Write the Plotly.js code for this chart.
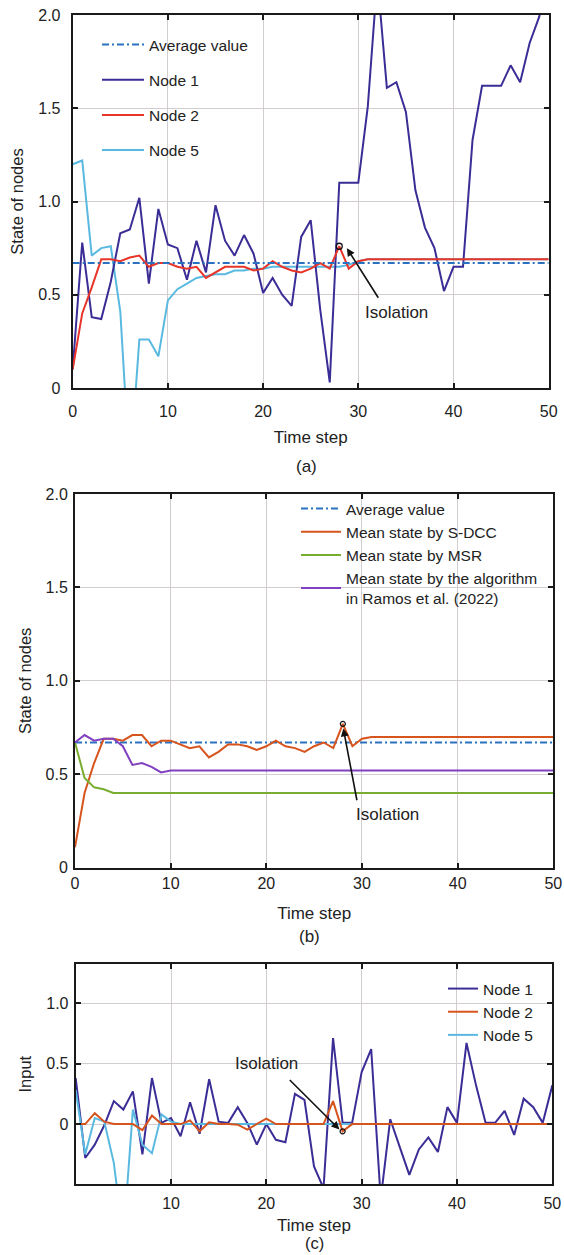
<!DOCTYPE html>
<html><head><meta charset="utf-8">
<script src="https://cdn.plot.ly/plotly-3.0.1.min.js"></script>
<style>html,body{margin:0;padding:0;background:#fff}</style>
</head><body><div id="chart" style="width:564px;height:1255px"></div>
<script>
const timeSteps = [0,1,2,3,4,5,6,7,8,9,10,11,12,13,14,15,16,17,18,19,20,21,22,23,24,25,26,27,28,29,30,31,32,33,34,35,36,37,38,39,40,41,42,43,44,45,46,47,48,49,50];
const averageValue = 0.67;
const isolationStep = 28;

// (a) state of nodes
const stateNode1 = [0.10,0.78,0.38,0.37,0.57,0.83,0.85,1.02,0.56,0.96,0.77,0.75,0.58,0.79,0.62,0.98,0.79,0.71,0.82,0.72,0.51,0.59,0.50,0.44,0.81,0.90,0.42,0.03,1.10,1.10,1.10,1.51,2.20,1.61,1.64,1.48,1.06,0.86,0.75,0.52,0.65,0.65,1.33,1.62,1.62,1.62,1.73,1.64,1.85,1.99,2.20];
const stateNode2 = [0.10,0.40,0.54,0.69,0.69,0.68,0.70,0.71,0.65,0.67,0.67,0.65,0.64,0.65,0.59,0.62,0.65,0.65,0.65,0.63,0.64,0.68,0.65,0.63,0.62,0.64,0.67,0.64,0.76,0.64,0.68,0.69,0.69,0.69,0.69,0.69,0.69,0.69,0.69,0.69,0.69,0.69,0.69,0.69,0.69,0.69,0.69,0.69,0.69,0.69,0.69];
const stateNode5 = [1.20,1.22,0.71,0.75,0.76,0.41,-0.45,0.26,0.26,0.17,0.47,0.53,0.56,0.59,0.60,0.61,0.61,0.63,0.63,0.64,0.64,0.65,0.65,0.65,0.65,0.65,0.65,0.65,0.65,0.66,0.68,0.69,0.69,0.69,0.69,0.69,0.69,0.69,0.69,0.69,0.69,0.69,0.69,0.69,0.69,0.69,0.69,0.69,0.69,0.69,0.69];

// (b) mean states
const meanSDCC = [0.11,0.40,0.56,0.69,0.69,0.68,0.71,0.71,0.65,0.68,0.68,0.66,0.64,0.65,0.59,0.62,0.66,0.66,0.65,0.63,0.65,0.68,0.65,0.64,0.62,0.65,0.67,0.64,0.77,0.65,0.69,0.70,0.70,0.70,0.70,0.70,0.70,0.70,0.70,0.70,0.70,0.70,0.70,0.70,0.70,0.70,0.70,0.70,0.70,0.70,0.70];
const meanMSR = [0.67,0.48,0.43,0.42,0.40,0.40,0.40,0.40,0.40,0.40,0.40,0.40,0.40,0.40,0.40,0.40,0.40,0.40,0.40,0.40,0.40,0.40,0.40,0.40,0.40,0.40,0.40,0.40,0.40,0.40,0.40,0.40,0.40,0.40,0.40,0.40,0.40,0.40,0.40,0.40,0.40,0.40,0.40,0.40,0.40,0.40,0.40,0.40,0.40,0.40,0.40];
const meanRamos = [0.67,0.71,0.68,0.69,0.69,0.65,0.55,0.56,0.54,0.51,0.52,0.52,0.52,0.52,0.52,0.52,0.52,0.52,0.52,0.52,0.52,0.52,0.52,0.52,0.52,0.52,0.52,0.52,0.52,0.52,0.52,0.52,0.52,0.52,0.52,0.52,0.52,0.52,0.52,0.52,0.52,0.52,0.52,0.52,0.52,0.52,0.52,0.52,0.52,0.52,0.52];

// (c) inputs
const inputNode1 = [0.38,-0.28,-0.17,-0.01,0.19,0.12,0.27,-0.25,0.38,0.01,0.05,-0.10,0.18,-0.08,0.37,0.02,0.01,0.14,0.01,-0.17,0.00,-0.13,-0.15,0.25,0.20,-0.35,-0.53,0.71,0.01,0.01,0.43,0.62,-0.62,0.04,-0.19,-0.42,-0.21,-0.11,-0.23,0.14,0.01,0.67,0.32,0.01,0.01,0.11,-0.09,0.21,0.14,0.01,0.32];
const inputNode2 = [0,0,0.09,0.02,0,0,0,-0.05,0.07,0,0,0,0.03,-0.06,0.015,0,0,-0.005,-0.045,0,0.045,0,0,0,0,0,0,0.19,-0.06,0,0,0,0,0,0,0,0,0,0,0,0,0,0,0,0,0,0,0,0,0,0];
const inputNode5 = [0.28,-0.25,0.05,0.02,-0.32,-0.95,0.12,-0.17,-0.24,0.08,0.02,0,0,0,0,0,0,0,0,0,0,0,0,0,0,0,0,0,0,0,0,0,0,0,0,0,0,0,0,0,0,0,0,0,0,0,0,0,0,0,0];

const stateTicks = [0,0.5,1,1.5,2];
const stateTickText = ['0','0.5','1.0','1.5','2.0'];
const inputTicks = [0,0.5,1];
const inputTickText = ['0','0.5','1.0'];
const xTicksAB = [0,10,20,30,40,50];
const xTicksC = [10,20,30,40,50];

const C = {node1:'#3a2d96', node2:'#e8352a', node5:'#5ab9e0', avg:'#2a72c0',
           sdcc:'#d6541d', msr:'#79ad2f', ramos:'#8040c0'};
const avgDash = '7px,3px,2px,3px';
const xEnds = [timeSteps[0], timeSteps[timeSteps.length-1]];
const avgLine = [averageValue, averageValue];

const traces = [
  // (a) — drawing order: node 5, node 1, node 2, average; legend order via legendrank
  {x:timeSteps, y:stateNode5, mode:'lines', name:'Node 5', line:{color:C.node5,width:2}, xaxis:'x', yaxis:'y', legend:'legend', legendgroup:'a4', legendrank:4},
  {x:timeSteps, y:stateNode1, mode:'lines', name:'Node 1', line:{color:C.node1,width:2}, xaxis:'x', yaxis:'y', legend:'legend', legendgroup:'a2', legendrank:2},
  {x:timeSteps, y:stateNode2, mode:'lines', name:'Node 2', line:{color:C.node2,width:2}, xaxis:'x', yaxis:'y', legend:'legend', legendgroup:'a3', legendrank:3},
  {x:xEnds, y:avgLine, mode:'lines', name:'Average value', line:{color:C.avg,width:2,dash:avgDash}, xaxis:'x', yaxis:'y', legend:'legend', legendgroup:'a1', legendrank:1},
  {x:[isolationStep], y:[stateNode2[isolationStep]], mode:'markers', showlegend:false, marker:{symbol:'circle-open', size:6, color:'#111', line:{width:1.3}}, xaxis:'x', yaxis:'y'},
  // (b)
  {x:xEnds, y:avgLine, mode:'lines', name:'Average value', line:{color:C.avg,width:2,dash:avgDash}, xaxis:'x2', yaxis:'y2', legend:'legend2'},
  {x:timeSteps, y:meanSDCC, mode:'lines', name:'Mean state by S-DCC', line:{color:C.sdcc,width:2}, xaxis:'x2', yaxis:'y2', legend:'legend2'},
  {x:timeSteps, y:meanMSR, mode:'lines', name:'Mean state by MSR', line:{color:C.msr,width:2}, xaxis:'x2', yaxis:'y2', legend:'legend2'},
  {x:timeSteps, y:meanRamos, mode:'lines', name:'Mean state by the algorithm<br>in Ramos et al. (2022)', line:{color:C.ramos,width:2}, xaxis:'x2', yaxis:'y2', legend:'legend2'},
  {x:[isolationStep], y:[meanSDCC[isolationStep]], mode:'markers', showlegend:false, marker:{symbol:'circle-open', size:5, color:'#111', line:{width:1.2}}, xaxis:'x2', yaxis:'y2'},
  // (c)
  {x:timeSteps, y:inputNode1, mode:'lines', name:'Node 1', line:{color:C.node1,width:2}, xaxis:'x3', yaxis:'y3', legend:'legend3', legendrank:1},
  {x:timeSteps, y:inputNode5, mode:'lines', name:'Node 5', line:{color:C.node5,width:2}, xaxis:'x3', yaxis:'y3', legend:'legend3', legendrank:3},
  {x:timeSteps, y:inputNode2, mode:'lines', name:'Node 2', line:{color:C.sdcc,width:2}, xaxis:'x3', yaxis:'y3', legend:'legend3', legendrank:2},
  {x:[isolationStep], y:[inputNode2[isolationStep]], mode:'markers', showlegend:false, marker:{symbol:'circle-open', size:5, color:'#111', line:{width:1.2}}, xaxis:'x3', yaxis:'y3'}
];

const W = 564, H = 1255;
const px = (a,b) => [a/W, b/W];
const py = (top,bottom) => [1-bottom/H, 1-top/H];

const axBase = {showline:true, linecolor:'#1a1a1a', linewidth:2, mirror:'ticks', ticks:'inside', ticklen:5, tickwidth:2, tickcolor:'#1a1a1a',
  showgrid:true, gridcolor:'#d2cdd0', gridwidth:1.2, zeroline:false, tickfont:{size:16, color:'#222'}};
const titleFont = {size:17, color:'#222'};
const yTitleFont = {size:16.5, color:'#222'};

const layout = {
  width:W, height:H, margin:{l:0,r:0,t:0,b:0}, paper_bgcolor:'#fff', plot_bgcolor:'#fff',
  font:{family:'Liberation Sans, Arial, Helvetica, sans-serif', size:16, color:'#222'},
  xaxis: Object.assign({}, axBase, {domain:px(72.7,548.7), range:[0,50], tickvals:xTicksAB, anchor:'y', ticklabelstandoff:8,
    title:{text:'Time step', font:titleFont, standoff:12}}),
  yaxis: Object.assign({}, axBase, {domain:py(15,388), range:[0,2], tickvals:stateTicks, ticktext:stateTickText, anchor:'x', ticklabelstandoff:7,
    title:{text:'State of nodes', font:yTitleFont, standoff:10}}),
  xaxis2: Object.assign({}, axBase, {domain:px(75,553.3), range:[0,50], tickvals:xTicksAB, anchor:'y2', ticklabelstandoff:0,
    title:{text:'Time step', font:titleFont, standoff:16}}),
  yaxis2: Object.assign({}, axBase, {domain:py(494,867.7), range:[0,2], tickvals:stateTicks, ticktext:stateTickText, anchor:'x2', ticklabelstandoff:2,
    title:{text:'State of nodes', font:yTitleFont, standoff:10}}),
  xaxis3: Object.assign({}, axBase, {domain:px(75.7,552.3), range:[0,50], tickvals:xTicksC, anchor:'y3', ticklabelstandoff:4,
    title:{text:'Time step', font:titleFont, standoff:8}}),
  yaxis3: Object.assign({}, axBase, {domain:py(964.3,1184), range:[-0.495,1.32], tickvals:inputTicks, ticktext:inputTickText, anchor:'x3', ticklabelstandoff:2,
    title:{text:'Input', font:yTitleFont, standoff:10}}),
  legend:{x:97/W, y:1-28/H, xanchor:'left', yanchor:'top', bgcolor:'rgba(0,0,0,0)', font:{size:15.5,color:'#222'}, itemwidth:42, tracegroupgap:12, traceorder:'grouped'},
  legend2:{x:296/W, y:1-492/H, xanchor:'left', yanchor:'top', bgcolor:'rgba(0,0,0,0)', font:{size:15.5,color:'#222'}, itemwidth:40},
  legend3:{x:443/W, y:1-972/H, xanchor:'left', yanchor:'top', bgcolor:'rgba(0,0,0,0)', font:{size:15.5,color:'#222'}, itemwidth:30},
  annotations:[
    {xref:'paper', yref:'paper', x:306/W, y:1-467/H, text:'(a)', showarrow:false, font:{size:17}, xanchor:'center', yanchor:'middle'},
    {xref:'paper', yref:'paper', x:309/W, y:1-936/H, text:'(b)', showarrow:false, font:{size:17}, xanchor:'center', yanchor:'middle'},
    {xref:'paper', yref:'paper', x:315/W, y:1-1254/H, text:'(c)', showarrow:false, font:{size:16.5}, xanchor:'center', yanchor:'bottom'},
    // (a) isolation
    {xref:'x', yref:'y', x:34.0, y:0.406, text:'Isolation', showarrow:false, font:{size:17}},
    {xref:'x', yref:'y', axref:'x', ayref:'y', x:28.8, y:0.75, ax:32.2, ay:0.476, text:'', showarrow:true, arrowhead:2, arrowsize:1, arrowwidth:1.6, arrowcolor:'#111'},
    // (b)
    {xref:'x2', yref:'y2', x:32.65, y:0.286, text:'Isolation', showarrow:false, font:{size:17}},
    {xref:'x2', yref:'y2', axref:'x2', ayref:'y2', x:28.05, y:0.745, ax:29.5, ay:0.353, text:'', showarrow:true, arrowhead:2, arrowsize:1, arrowwidth:1.6, arrowcolor:'#111'},
    // (c)
    {xref:'x3', yref:'y3', x:20.0, y:0.503, text:'Isolation', showarrow:false, font:{size:17}},
    {xref:'x3', yref:'y3', axref:'x3', ayref:'y3', x:27.67, y:-0.044, ax:22.3, ay:0.377, text:'', showarrow:true, arrowhead:2, arrowsize:1, arrowwidth:1.6, arrowcolor:'#111'}
  ]
};
Plotly.newPlot('chart', traces, layout, {displayModeBar:false, responsive:false});
</script></body></html>
